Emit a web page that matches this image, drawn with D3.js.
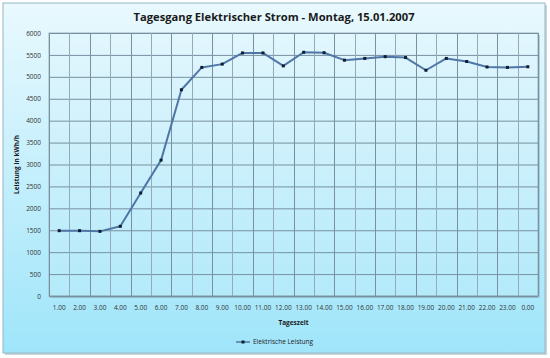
<!DOCTYPE html>
<html><head><meta charset="utf-8">
<script src="https://cdn.jsdelivr.net/npm/d3@7"></script>
<style>body{margin:0;background:#fff}svg{display:block}</style>
</head><body>
<svg id="c" width="550" height="358"></svg>
<script>
const categories = ["1.00","2.00","3.00","4.00","5.00","6.00","7.00","8.00","9.00","10.00","11.00","12.00","13.00","14.00","15.00","16.00","17.00","18.00","19.00","20.00","21.00","22.00","23.00","0.00"];
const leistung = [1490,1490,1475,1590,2350,3100,4705,5215,5290,5545,5545,5250,5560,5550,5380,5420,5460,5440,5150,5420,5350,5225,5215,5230];
const yTicks = [0,500,1000,1500,2000,2500,3000,3500,4000,4500,5000,5500,6000];
const title = "Tagesgang Elektrischer Strom - Montag, 15.01.2007";
const xTitle = "Tageszeit";
const yTitle = "Leistung in kWh/h";
const seriesName = "Elektrische Leistung";

const svg = d3.select("#c");
const defs = svg.append("defs");
const g1 = defs.append("linearGradient").attr("id","bg").attr("x1",0).attr("y1",0).attr("x2",0).attr("y2",1);
g1.append("stop").attr("offset","0%").attr("stop-color","#e9f9fe");
g1.append("stop").attr("offset","100%").attr("stop-color","#9fe5fa");
const g2 = defs.append("linearGradient").attr("id","pbg").attr("x1",0).attr("y1",0).attr("x2",0).attr("y2",1);
g2.append("stop").attr("offset","0%").attr("stop-color","#e2f6fd");
g2.append("stop").attr("offset","100%").attr("stop-color","#b3eafa");

svg.append("rect").attr("x",5).attr("y",5).attr("width",542).attr("height",350).attr("fill","#c9d3d8");
svg.append("rect").attr("x",3).attr("y",3).attr("width",542).attr("height",350).attr("fill","url(#bg)").attr("stroke","#94b8c6").attr("stroke-width",1);

const m = {l:49, r:538, t:33, b:296};
const x = d3.scaleBand().domain(categories).range([m.l, m.r]);
const y = d3.scaleLinear().domain([0,6000]).range([m.b, m.t]);

svg.append("rect").attr("x",m.l+2).attr("y",m.t+2).attr("width",m.r-m.l).attr("height",m.b-m.t).attr("fill","#8fb8c8").attr("opacity",0.6);
svg.append("rect").attr("x",m.l).attr("y",m.t).attr("width",m.r-m.l).attr("height",m.b-m.t).attr("fill","url(#pbg)").attr("stroke","#9ab4c0").attr("stroke-width",1);

svg.append("g").selectAll("line").data(yTicks).join("line")
  .attr("x1",m.l).attr("x2",m.r).attr("y1",d=>y(d)+0.5).attr("y2",d=>y(d)+0.5)
  .attr("stroke","#7890a0").attr("stroke-width",1);
const bounds = categories.map(c=>x(c)).concat([m.r]);
svg.append("g").selectAll("line").data(bounds).join("line")
  .attr("x1",d=>Math.round(d)+0.5).attr("x2",d=>Math.round(d)+0.5).attr("y1",m.t).attr("y2",m.b)
  .attr("stroke",(d,i)=> i%2 ? "#93aab8" : "#7890a0").attr("stroke-width",1);

svg.append("line").attr("x1",m.l).attr("x2",m.r).attr("y1",m.b+0.5).attr("y2",m.b+0.5).attr("stroke","#7890a0").attr("stroke-width",1.5);

const fontFam = "'Open Sans','Noto Sans',sans-serif";
const yAxis = svg.append("g").attr("transform",`translate(${m.l},0)`)
  .call(d3.axisLeft(y).tickValues(yTicks).tickSize(0).tickPadding(8).tickFormat(d3.format("d")));
yAxis.select(".domain").remove();
yAxis.selectAll("text").attr("font-family",fontFam).attr("font-size",6.5).attr("fill","#333").attr("dy","0.32em");

const xAxis = svg.append("g").attr("transform",`translate(0,${m.b})`)
  .call(d3.axisBottom(x).tickSize(0).tickPadding(9));
xAxis.select(".domain").remove();
xAxis.selectAll("text").attr("font-family",fontFam).attr("font-size",6.5).attr("fill","#333");

const line = d3.line().x((d,i)=>x(categories[i])+x.bandwidth()/2).y(d=>y(d));
svg.append("path").datum(leistung).attr("d",line).attr("fill","none")
  .attr("stroke","#4f76a6").attr("stroke-width",2).attr("stroke-linejoin","round");
svg.append("g").selectAll("rect").data(leistung).join("rect")
  .attr("x",(d,i)=>x(categories[i])+x.bandwidth()/2-1.5).attr("y",d=>y(d)-1.5)
  .attr("width",3).attr("height",3).attr("fill","#101c30");

svg.append("text").attr("x",274).attr("y",21).attr("text-anchor","middle")
  .attr("font-family",fontFam).attr("font-weight","bold").attr("font-size",11.2)
  .attr("fill","#1a1a1a").text(title);
svg.append("text").attr("x",(m.l+m.r)/2).attr("y",325).attr("text-anchor","middle")
  .attr("font-family",fontFam).attr("font-weight","bold").attr("font-size",6.5).attr("fill","#1a1a1a").text(xTitle);
svg.append("text").attr("transform",`translate(19,${(m.t+m.b)/2}) rotate(-90)`).attr("text-anchor","middle")
  .attr("font-family",fontFam).attr("font-weight","bold").attr("font-size",6.5).attr("fill","#1a1a1a").text(yTitle);

const lg = svg.append("g").attr("transform","translate(236,342)");
lg.append("line").attr("x1",0).attr("x2",14).attr("y1",0).attr("y2",0).attr("stroke","#4f76a6").attr("stroke-width",1.5);
lg.append("rect").attr("x",5.5).attr("y",-1.5).attr("width",3).attr("height",3).attr("fill","#101c30");
lg.append("text").attr("x",17).attr("y",0).attr("dy","0.35em").attr("font-family",fontFam).attr("font-size",6.5).attr("fill","#222").text(seriesName);
</script>
</body></html>
